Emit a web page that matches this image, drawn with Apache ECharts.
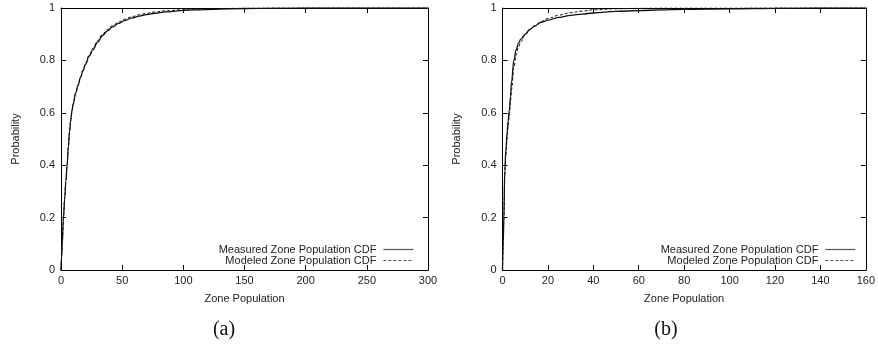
<!DOCTYPE html>
<html>
<head>
<meta charset="utf-8">
<script src="https://cdn.jsdelivr.net/npm/echarts@6/dist/echarts.min.js"></script>
<style>
html,body{margin:0;padding:0;background:#fff;}
#c{width:878px;height:345px;}
</style>
</head>
<body>
<div id="c"></div>
<script>
// ---- data ----
var seriesNames = ['Measured Zone Population CDF', 'Modeled Zone Population CDF'];

// panel (a)
var aX = [0, 0.5, 1, 2, 3, 4, 5, 6, 7, 8, 9, 10, 12, 14, 16, 18, 20, 23, 26, 30, 34, 38, 42, 47, 52, 58, 64, 70, 77, 85, 98, 110, 125, 150, 175, 200, 250, 300];
var aMeasuredY = [0, 0.05, 0.10, 0.20, 0.27, 0.34, 0.40, 0.47, 0.53, 0.575, 0.61, 0.635, 0.675, 0.705, 0.735, 0.76, 0.785, 0.815, 0.84, 0.87, 0.895, 0.913, 0.928, 0.941, 0.952, 0.962, 0.969, 0.975, 0.980, 0.985, 0.990, 0.993, 0.995, 0.998, 0.999, 1, 1, 1];
var aModeledY = [0, 0.05, 0.10, 0.20, 0.275, 0.345, 0.405, 0.47, 0.525, 0.57, 0.605, 0.632, 0.675, 0.708, 0.738, 0.764, 0.789, 0.82, 0.846, 0.876, 0.90, 0.918, 0.933, 0.946, 0.957, 0.967, 0.974, 0.980, 0.985, 0.989, 0.993, 0.996, 0.998, 0.999, 1, 1, 1, 1];

// panel (b)
var bX = [0, 0.3, 0.6, 1, 1.5, 2, 2.5, 3, 3.5, 4, 5, 6, 7, 8, 10, 12, 14, 17, 20, 25, 30, 35, 40, 50, 60, 70, 80, 100, 120, 140, 160];
var bMeasuredY = [0, 0.10, 0.20, 0.38, 0.46, 0.52, 0.57, 0.61, 0.66, 0.72, 0.80, 0.84, 0.865, 0.88, 0.90, 0.918, 0.93, 0.945, 0.954, 0.964, 0.972, 0.977, 0.981, 0.987, 0.990, 0.993, 0.995, 0.997, 0.999, 1, 1];
var bModeledY = [0, 0.09, 0.19, 0.36, 0.44, 0.50, 0.55, 0.59, 0.64, 0.69, 0.77, 0.82, 0.85, 0.87, 0.897, 0.918, 0.932, 0.948, 0.96, 0.973, 0.982, 0.988, 0.993, 0.997, 0.999, 1, 1, 1, 1, 1, 1];

// axis settings
var aXMax = 300, aXInterval = 50;
var bXMax = 160, bXInterval = 20;
var yMax = 1, yInterval = 0.2;
var xAxisName = 'Zone Population';
var yAxisName = 'Probability';
var panelLabels = ['(a)', '(b)'];

function zip(xs, ys) { return xs.map(function (x, i) { return [x, ys[i]]; }); }

var FONT = '"Liberation Sans", Arial, sans-serif';
var FS = 11;
var ink = '#000';
var txt = '#222';

function xAxes(gridIndex, max, interval) {
  var base = {
    type: 'value', gridIndex: gridIndex, min: 0, max: max, interval: interval,
    splitLine: { show: false },
    axisLine: { show: true, onZero: false, lineStyle: { color: ink, width: 1 } },
    axisTick: { show: true, inside: true, length: 5, lineStyle: { color: ink } }
  };
  var bottom = Object.assign({}, base, {
    position: 'bottom',
    axisLabel: { show: true, color: txt, fontSize: FS, fontFamily: FONT, margin: 5, showMinLabel: true, showMaxLabel: true },
    name: xAxisName, nameLocation: 'middle', nameGap: 23,
    nameTextStyle: { color: txt, fontSize: FS, fontFamily: FONT }
  });
  var top = Object.assign({}, base, { position: 'top', axisLabel: { show: false } });
  return [bottom, top];
}
function yAxes(gridIndex) {
  var base = {
    type: 'value', gridIndex: gridIndex, min: 0, max: yMax, interval: yInterval,
    splitLine: { show: false },
    axisLine: { show: true, onZero: false, lineStyle: { color: ink, width: 1 } },
    axisTick: { show: true, inside: true, length: 5, lineStyle: { color: ink } }
  };
  var left = Object.assign({}, base, {
    position: 'left',
    axisLabel: { show: true, color: txt, fontSize: FS, fontFamily: FONT, margin: 6 },
    name: yAxisName, nameLocation: 'middle', nameGap: 40,
    nameTextStyle: { color: txt, fontSize: FS, fontFamily: FONT }
  });
  var right = Object.assign({}, base, { position: 'right', axisLabel: { show: false } });
  return [left, right];
}

function lineSeries(name, data, xi, yi, dashed) {
  return {
    type: 'line', name: name, data: data, xAxisIndex: xi, yAxisIndex: yi,
    symbol: 'none', showSymbol: false, smooth: 0.4, smoothMonotone: 'x', silent: true, animation: false,
    lineStyle: dashed ? { color: '#111', width: 1, type: [3, 2] } : { color: '#111', width: 1.3, type: 'solid' },
    itemStyle: { color: '#111' }
  };
}

var legendCommon = {
  orient: 'vertical', align: 'right', itemWidth: 30, itemHeight: 8, itemGap: 0,
  padding: 0, selectedMode: false,
  itemStyle: { opacity: 0 },
  lineStyle: { color: '#555', width: 1.2 },
  textStyle: { color: txt, fontSize: FS, fontFamily: FONT, lineHeight: 11, padding: [0, 2, 0, 0] },
  data: seriesNames
};

var option = {
  animation: false,
  backgroundColor: '#fff',
  grid: [
    { left: 61, top: 8, width: 367, height: 262 },
    { left: 502.5, top: 8, width: 366.5, height: 262 }
  ],
  xAxis: xAxes(0, aXMax, aXInterval).concat(xAxes(1, bXMax, bXInterval)),
  yAxis: yAxes(0).concat(yAxes(1)),
  legend: [
    Object.assign({}, legendCommon, { right: 464, top: 244 }),
    Object.assign({}, legendCommon, { right: 22, top: 244 })
  ],
  series: [
    lineSeries(seriesNames[0], zip(aX, aMeasuredY), 0, 0, false),
    lineSeries(seriesNames[1], zip(aX, aModeledY), 0, 0, true),
    lineSeries(seriesNames[0], zip(bX, bMeasuredY), 2, 2, false),
    lineSeries(seriesNames[1], zip(bX, bModeledY), 2, 2, true)
  ],
  graphic: [
    { type: 'text', x: 224, y: 330, style: { text: panelLabels[0], font: '20px "Liberation Serif", "Times New Roman", serif', fill: '#111', textAlign: 'center', textVerticalAlign: 'middle' } },
    { type: 'text', x: 666, y: 330, style: { text: panelLabels[1], font: '20px "Liberation Serif", "Times New Roman", serif', fill: '#111', textAlign: 'center', textVerticalAlign: 'middle' } }
  ]
};

var chart = echarts.init(document.getElementById('c'), null, { renderer: 'canvas' });
chart.setOption(option);
</script>
</body>
</html>
